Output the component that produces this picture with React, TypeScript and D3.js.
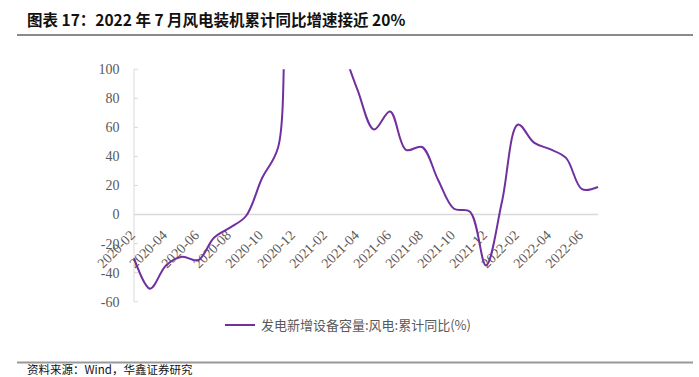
import React from "react";
import * as d3 from "d3";

const months = [
  "2020-02","2020-03","2020-04","2020-05","2020-06","2020-07","2020-08","2020-09","2020-10","2020-11",
  "2020-12","2021-01","2021-02","2021-03","2021-04","2021-05","2021-06","2021-07","2021-08","2021-09",
  "2021-10","2021-11","2021-12","2022-01","2022-02","2022-03","2022-04","2022-05","2022-06","2022-07",
];
const windYoY = [
  -30, -51, -35, -29, -31.5, -16, -9, -1, 25, 46,
  178, 175, 190, 118, 85, 58.5, 71, 44.5, 46.5, 24,
  4, 2, -35, 9, 62, 49.5, 45, 39, 17.5, 19,
];
const yTicks = [100, 80, 60, 40, 20, 0, -20, -40, -60];
const xTickLabels = months.filter((_, i) => i % 2 === 0);

const title = "图表 17：2022 年 7 月风电装机累计同比增速接近 20%";
const legendLabel = "发电新增设备容量:风电:累计同比(%)";
const source = "资料来源：Wind，华鑫证券研究";

export default function App() {
  const W = 699, H = 377;
  const left = 134, right = 598, top = 69.3, bottom = 301.7;
  const x = d3.scalePoint<string>().domain(months).range([left, right]);
  const y = d3.scaleLinear().domain([-60, 100]).range([bottom, top]);
  const line = d3
    .line<number>()
    .x((_, i) => x(months[i]) as number)
    .y((d) => y(d))
    .curve(d3.curveCatmullRom.alpha(0.5));
  const serif = "'Liberation Serif', 'Times New Roman', serif";
  const cjk = "'Noto Sans CJK SC', sans-serif";
  return (
    <svg width={W} height={H} style={{ position: "absolute", left: 0, top: 0, background: "#fff" }}>
      <defs>
        <clipPath id="plot">
          <rect x={left - 2} y={top} width={right - left + 6} height={bottom - top} />
        </clipPath>
      </defs>
      <text x={27} y={26} fontFamily={cjk} fontWeight="bold" fontSize={15.5} fill="#111">
        {title}
      </text>
      <line x1={17} x2={693} y1={35} y2={35} stroke="#8a8a8a" strokeWidth={2} />

      {/* y axis */}
      <line x1={left} x2={left} y1={top} y2={bottom} stroke="#d9d9d9" strokeWidth={1} />
      {yTicks.map((t) => (
        <g key={t}>
          <line x1={left} x2={left + 4} y1={y(t)} y2={y(t)} stroke="#d9d9d9" />
          <text x={119.5} y={y(t)} dy="0.35em" textAnchor="end" fontFamily={serif} fontSize={14} fill="#595959">
            {t}
          </text>
        </g>
      ))}
      {/* zero line */}
      <line x1={left} x2={right} y1={y(0)} y2={y(0)} stroke="#d9d9d9" strokeWidth={1.5} />
      {xTickLabels.map((m) => (
        <text
          key={m}
          transform={`translate(${(x(m) as number) + 2},236) rotate(-45)`}
          textAnchor="end"
          fontFamily={serif}
          fontSize={14}
          fill="#595959"
        >
          {m}
        </text>
      ))}
      <path
        d={line(windYoY) || ""}
        fill="none"
        stroke="#7030a0"
        strokeWidth={2}
        clipPath="url(#plot)"
      />

      {/* legend */}
      <line x1={225} x2={255} y1={325} y2={325} stroke="#7030a0" strokeWidth={2} />
      <text x={261} y={325} dy="0.35em" fontFamily={cjk} fontSize={13} fill="#595959">
        {legendLabel}
      </text>

      <line x1={17} x2={693} y1={362.5} y2={362.5} stroke="#999" strokeWidth={2} />
      <text x={27} y={374} fontFamily={cjk} fontSize={11.5} fill="#111">
        {source}
      </text>
    </svg>
  );
}
